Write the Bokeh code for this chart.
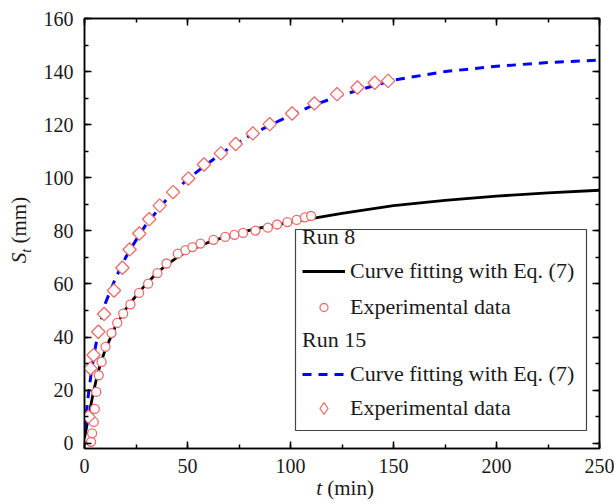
import math
from bokeh.plotting import figure
from bokeh.layouts import row, column
from bokeh.models import (LinearAxis, SingleIntervalTicker, Legend, LegendItem,
                          BoxAnnotation, Range1d, Div)
from bokeh.embed import file_html
from bokeh.resources import INLINE

# ---- data ----
run8_t = [3.2, 3.7, 4.5, 5.0, 5.7, 6.9, 8.3, 10.2, 13.1, 15.9, 18.8, 22.3, 26.5, 30.9,
          35.4, 39.8, 45.3, 49.0, 52.4, 56.3, 62.6, 68.3, 72.8, 77.0, 83.0, 89.0,
          93.5, 98.5, 103.0, 107.0, 110.0]
run8_s = [0.5, 3.7, 8.0, 12.9, 19.3, 25.6, 30.6, 36.3, 41.5, 45.3, 48.8, 52.3, 56.6, 60.1,
          64.1, 67.7, 71.4, 72.7, 73.9, 75.2, 76.6, 77.7, 78.5, 79.2, 80.1, 81.2,
          82.4, 83.3, 84.1, 85.1, 85.6]

fit8_t = [0, 1, 2, 4, 6, 8, 10, 15, 20, 25, 30, 35, 40, 45, 50, 60, 70, 80, 90, 100,
          110, 125, 150, 175, 200, 225, 250]
fit8_s = [2.0, 6.0, 10.0, 18.0, 25.0, 30.5, 35.0, 44.0, 50.5, 55.5, 60.0, 64.0, 67.3,
          70.0, 72.3, 75.6, 78.2, 80.2, 81.9, 83.3, 84.6, 86.6, 89.5, 91.5, 93.1, 94.3, 95.3]

run15_t = [1.9, 2.9, 4.4, 6.7, 9.5, 14.3, 18.4, 21.9, 26.6, 31.4, 36.5, 43.0, 50.4, 58.0,
           66.2, 73.4, 81.7, 89.9, 100.8, 111.6, 122.6, 132.5, 140.9, 147.4]
run15_s = [10.0, 28.2, 33.2, 42.0, 48.7, 57.5, 66.1, 73.0, 79.0, 84.4, 89.5, 94.6, 99.7,
           105.0, 109.2, 112.7, 116.7, 120.2, 124.2, 128.0, 131.5, 134.0, 135.8, 136.5]

fit15_t = [0, 1, 2, 3, 4, 5, 7, 10, 15, 20, 25, 30, 40, 50, 60, 70, 80, 90, 100, 110,
           125, 150, 175, 200, 225, 250]
fit15_s = [5.0, 12.0, 19.0, 25.0, 30.0, 35.0, 43.0, 52.5, 62.0, 70.0, 76.5, 82.5, 92.0,
           99.5, 105.5, 111.0, 115.8, 119.8, 123.5, 127.0, 131.2, 136.8, 140.0, 142.0,
           143.4, 144.3]

x_ticks_step = 50
y_ticks_step = 20

FONT = "Liberation Serif"
TXT = "#1a1a1a"
MK = "#EE6A6A"

p = figure(frame_width=515, frame_height=430, min_border_left=48, min_border_right=15,
           min_border_top=18, min_border_bottom=33, output_backend="svg",
           toolbar_location=None, x_range=Range1d(0, 250), y_range=Range1d(-2, 160),
           margin=0)
p.xgrid.visible = False
p.ygrid.visible = False
p.outline_line_color = "black"
p.outline_line_width = 1.5
p.background_fill_color = "white"
p.border_fill_color = "white"

def style_axis(ax, show_labels=True):
    ax.major_tick_in = 7
    ax.major_tick_out = 0
    ax.minor_tick_in = 4
    ax.minor_tick_out = 0
    ax.axis_line_width = 1.5
    ax.major_tick_line_width = 1.5
    ax.minor_tick_line_width = 1.5
    ax.axis_line_color = "black"
    ax.major_tick_line_color = "black"
    ax.minor_tick_line_color = "black"
    ax.axis_label = None
    if show_labels:
        ax.major_label_text_font = FONT
        ax.major_label_text_font_size = "20px"
        ax.major_label_text_color = TXT
    else:
        ax.major_label_text_font_size = "1px"
        ax.major_label_text_alpha = 0
        ax.major_label_standoff = 0

p.xaxis.ticker = SingleIntervalTicker(interval=x_ticks_step, num_minor_ticks=2)
p.yaxis.ticker = SingleIntervalTicker(interval=y_ticks_step, num_minor_ticks=2)
for ax in p.xaxis:
    style_axis(ax)
    ax.major_label_standoff = 10
for ax in p.yaxis:
    style_axis(ax)
    ax.major_label_standoff = 11

ax_top = LinearAxis(ticker=SingleIntervalTicker(interval=x_ticks_step, num_minor_ticks=2))
style_axis(ax_top, False)
p.add_layout(ax_top, "above")
ax_right = LinearAxis(ticker=SingleIntervalTicker(interval=y_ticks_step, num_minor_ticks=2))
style_axis(ax_right, False)
p.add_layout(ax_right, "right")

# ---- data glyphs ----
r_fit8 = p.line(fit8_t, fit8_s, line_color="black", line_width=2.8)
r_fit15 = p.line(fit15_t, fit15_s, line_color="#0000FF", line_width=3, line_dash="9 7")
r_run8 = p.scatter(run8_t, run8_s, marker="circle", size=9, line_color=MK,
                   fill_color="white", line_width=1.3)
r_run15 = p.scatter(run15_t, run15_s, marker="square", angle=math.pi / 4, size=9.5,
                    line_color=MK, fill_color="white", line_width=1.3)
# legend key for the diamonds (legend glyphs are drawn unrotated): no visible point
r_run15_key = p.scatter([float("nan")], [float("nan")], marker="diamond",
                        line_color=MK, fill_color="white", line_width=1.3)

# ---- legend ----
box = BoxAnnotation(left=211, right=502, bottom=18, top=219,
                    left_units="screen", right_units="screen",
                    top_units="screen", bottom_units="screen",
                    fill_color="white", fill_alpha=1.0,
                    line_color="#444444", line_width=1.2, line_alpha=1.0)
p.add_layout(box)

def make_legend(items, loc, title=None, gh=24, lh=24):
    kw = dict(items=items, location=loc,
              label_text_font=FONT, label_text_font_size="22px",
              label_text_color=TXT, label_standoff=5,
              glyph_width=43, glyph_height=gh, label_height=lh, spacing=10,
              padding=0, margin=0, border_line_alpha=0, background_fill_alpha=0)
    if title:
        kw.update(title=title, title_text_font=FONT, title_text_font_size="22px",
                  title_text_font_style="normal", title_text_color=TXT, title_standoff=8)
    return Legend(**kw)

legA = make_legend([LegendItem(label="Curve fitting with Eq. (7)", renderers=[r_fit8]),
                    LegendItem(label="Experimental data", renderers=[r_run8])],
                   (218, 128), title="Run 8", gh=20, lh=24)
legB1 = make_legend([LegendItem(label="Curve fitting with Eq. (7)", renderers=[r_fit15])],
                    (218, 61), title="Run 15")
legB2 = make_legend([LegendItem(label="Experimental data", renderers=[r_run15_key])],
                    (218, 25), gh=30, lh=30)
for lg in (legA, legB1, legB2):
    p.add_layout(lg)

# ---- axis titles (HTML text beside the canvas) ----
font_css = "font-family:'Liberation Serif',serif;font-size:21px;color:#1a1a1a;white-space:nowrap;line-height:21px;"
y_title = Div(width=36, height=481, margin=0, text=(
    '<div style="position:relative;width:36px;height:481px;">'
    '<span style="position:absolute;left:19px;top:230px;'
    'transform:translate(-50%,-50%) rotate(-90deg);' + font_css + '">'
    '<i>S</i><sub style="font-size:14px;line-height:0;"><i>t</i></sub> (mm)</span></div>'))
x_title = Div(width=578, height=22, margin=0, text=(
    '<div style="position:relative;width:578px;height:22px;">'
    '<span style="position:absolute;left:309px;top:-3px;transform:translateX(-50%);'
    + font_css + '"><i>t</i> (min)</span></div>'))

layout = row(column(y_title, margin=0), column(p, x_title, margin=0), margin=0)

open("out.html", "w").write(file_html(layout, INLINE))
